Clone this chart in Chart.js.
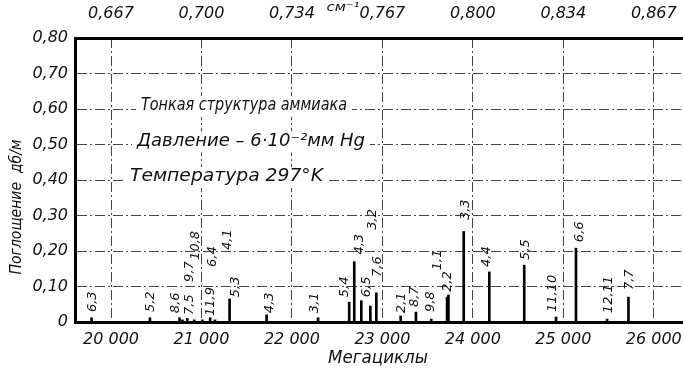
<!DOCTYPE html>
<html>
<head>
<meta charset="utf-8">
<script src="https://cdn.jsdelivr.net/npm/chart.js@4.4.1/dist/chart.umd.min.js"></script>
<style>
  html, body { margin: 0; padding: 0; background: #fff; }
</style>
</head>
<body>
<canvas id="c" width="683" height="372"></canvas>
<script>
// Линии инверсионного спектра аммиака (J,K), частота МГц, поглощение дб/м
const lineLabels = ['6,3', '5,2', '8,6', '9,7', '7,5', '10,8', '6,4', '11,9', '4,1', '5,3', '4,3', '3,1', '5,4', '4,3', '6,5', '3,2', '7,6', '2,1', '8,7', '9,8', '1,1', '2,2', '3,3', '4,4', '5,5', '11,10', '6,6', '12,11', '7,7'];
const lineFreq = [19785, 20430, 20757, 20790, 20843, 20920, 21010, 21096, 21150, 21311, 21720, 22289, 22633, 22689, 22767, 22867, 22933, 23202, 23371, 23540, 23715, 23730, 23899, 24182, 24568, 24920, 25140, 25484, 25720];
const lineValue = [0.012, 0.012, 0.012, 0.006, 0.010, 0.006, 0.006, 0.012, 0.006, 0.065, 0.020, 0.012, 0.056, 0.170, 0.060, 0.045, 0.082, 0.017, 0.028, 0.008, 0.070, 0.076, 0.255, 0.141, 0.160, 0.014, 0.208, 0.008, 0.070];
// где стоят подписи линий (частота, уровень начала подписи)
const labelFreq = [19796, 20443, 20713, 20865, 20865, 20940, 21119, 21096, 21288, 21379, 21751, 22256, 22578, 22744, 22822, 22889, 22944, 23213, 23360, 23528, 23607, 23719, 23921, 24148, 24580, 24886, 25183, 25505, 25731];
const labelLevel = [0.028, 0.028, 0.025, 0.113, 0.020, 0.175, 0.155, 0.017, 0.203, 0.070, 0.025, 0.025, 0.070, 0.190, 0.070, 0.260, 0.127, 0.025, 0.042, 0.028, 0.146, 0.085, 0.287, 0.155, 0.175, 0.028, 0.225, 0.025, 0.090];

const freqTicks = [20000, 21000, 22000, 23000, 24000, 25000, 26000];
const freqTickLabels = ['20 000', '21 000', '22 000', '23 000', '24 000', '25 000', '26 000'];
const waveTickLabels = ['0,667', '0,700', '0,734', '0,767', '0,800', '0,834', '0,867'];
const absTicks = [0, 0.1, 0.2, 0.3, 0.4, 0.5, 0.6, 0.7, 0.8];
const absTickLabels = ['0', '0,10', '0,20', '0,30', '0,40', '0,50', '0,60', '0,70', '0,80'];

const FONT = 'DejaVu Sans';
const INK = '#111';
const tickFont = { family: FONT, size: 16, style: 'italic' };
const gridDash = [10, 3, 2, 3];

function fitText(ctx, text, x, y, width, size, rot) {
  ctx.save();
  ctx.font = `italic ${size}px "${FONT}"`;
  const w = ctx.measureText(text).width;
  ctx.translate(x, y);
  if (rot) ctx.rotate(rot);
  ctx.scale(width / w, 1);
  ctx.textAlign = 'center';
  ctx.textBaseline = 'middle';
  ctx.fillStyle = INK;
  ctx.fillText(text, 0, 0);
  ctx.restore();
}

// горизонтальные оси без запаса под крайние подписи
const noSidePad = (s, h) => { s.height = h; s.paddingLeft = 0; s.paddingRight = 0; };

const notes = {
  id: 'notes',
  afterDatasetsDraw(chart) {
    const { ctx, chartArea: a, scales: { x, y } } = chart;

    // подписи линий
    ctx.save();
    ctx.font = `italic 13px "${FONT}"`;
    ctx.fillStyle = INK;
    ctx.textAlign = 'left';
    ctx.textBaseline = 'middle';
    lineLabels.forEach((t, i) => {
      ctx.save();
      ctx.translate(x.getPixelForValue(labelFreq[i]), y.getPixelForValue(labelLevel[i]));
      ctx.rotate(-Math.PI / 2);
      ctx.fillText(t, 0, 0);
      ctx.restore();
    });
    ctx.restore();

    // текстовый блок
    const rows = [
      ['Тонкая структура аммиака', 0.6, 66, 206],
      ['Давление – 6·10⁻²мм Hg', 0.5, 62, 228],
      ['Температура 297°K', 0.4, 55, 193],
    ];
    rows.forEach(([t, lvl, dx, w]) => {
      const py = y.getPixelForValue(lvl) - 3;
      ctx.fillStyle = '#fff';
      ctx.fillRect(a.left + dx - 5, py - 10, w + 10, 21);
      fitText(ctx, t, a.left + dx + w / 2, py, w, 17);
    });

    // подписи осей
    fitText(ctx, 'Мегациклы', 378, 359, 100, 17);
    fitText(ctx, 'Поглощение  дб/м', 17, 207, 135, 16, -Math.PI / 2);
    fitText(ctx, 'см⁻¹', 343, 8, 33, 13);
  }
};

new Chart(document.getElementById('c'), {
  type: 'bar',
  data: {
    datasets: [{
      data: lineFreq.map((f, i) => ({ x: f, y: lineValue[i] })),
      backgroundColor: '#000',
      borderWidth: 0,
      barThickness: 2,
    }]
  },
  options: {
    responsive: false,
    animation: false,
    devicePixelRatio: 1,
    layout: { padding: 0 },
    plugins: { legend: { display: false }, tooltip: { enabled: false } },
    scales: {
      x: {
        type: 'linear', position: 'bottom', min: 19602, max: 26323, offset: false,
        afterBuildTicks: (s) => { s.ticks = freqTicks.map((v) => ({ value: v })); },
        afterFit: (s) => noSidePad(s, 50),
        ticks: { callback: (v) => freqTickLabels[freqTicks.indexOf(v)], font: tickFont, color: INK, padding: 8, maxRotation: 0, autoSkip: false },
        grid: { color: '#444', lineWidth: 1, drawTicks: false, offset: false },
        border: { display: true, width: 3, color: '#000', dash: gridDash },
      },
      x2: {
        type: 'linear', position: 'top', min: 19602, max: 26323, offset: false,
        afterBuildTicks: (s) => { s.ticks = freqTicks.map((v) => ({ value: v })); },
        afterFit: (s) => noSidePad(s, 38),
        ticks: { callback: (v) => waveTickLabels[freqTicks.indexOf(v)], font: tickFont, color: INK, padding: 15, maxRotation: 0, autoSkip: false },
        grid: { drawOnChartArea: false, drawTicks: false, offset: false },
        border: { display: true, width: 3, color: '#000' },
      },
      y: {
        min: 0, max: 0.8,
        afterBuildTicks: (s) => { s.ticks = absTicks.map((v) => ({ value: v })); },
        afterFit: (s) => { s.width = 75; s.paddingTop = 0; s.paddingBottom = 0; },
        ticks: { callback: (v) => absTickLabels[absTicks.indexOf(v)], font: tickFont, color: INK, padding: 7, autoSkip: false },
        grid: { color: '#444', lineWidth: 1, drawTicks: false },
        border: { display: true, width: 3, color: '#000', dash: gridDash },
      }
    }
  },
  plugins: [notes]
});
</script>
</body>
</html>
